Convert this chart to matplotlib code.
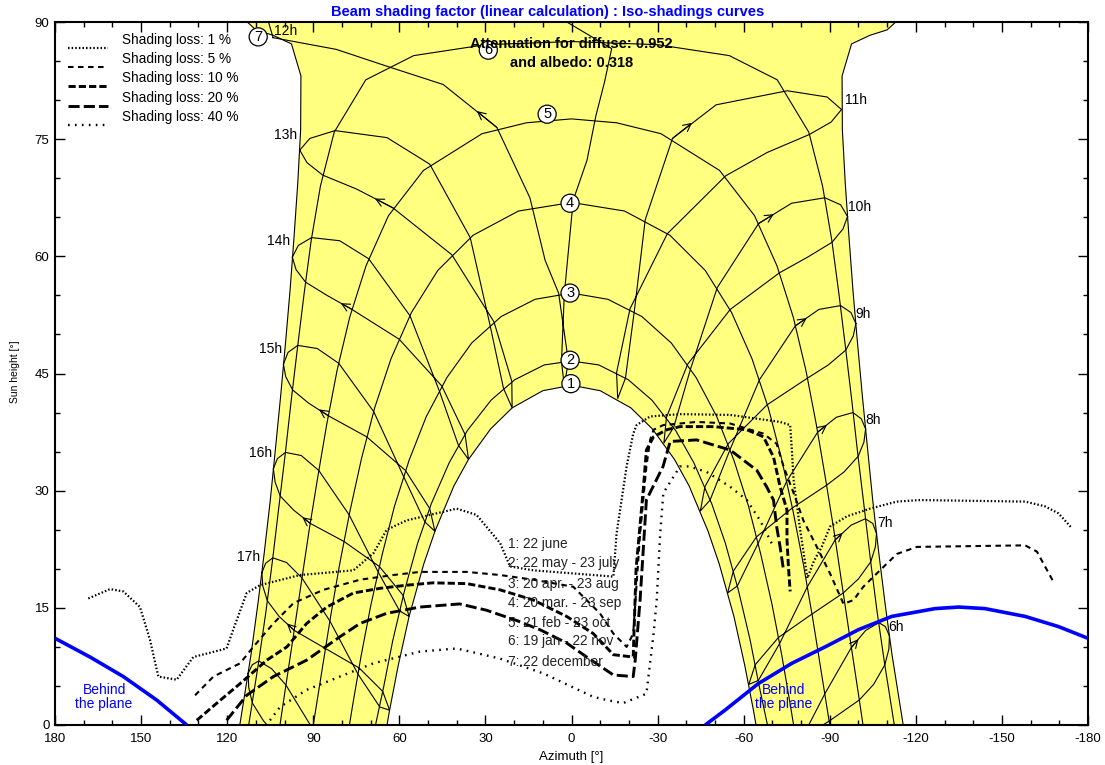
import matplotlib
matplotlib.use("Agg")
import matplotlib.pyplot as plt

plt.rcParams['font.family'] = ['Liberation Sans', 'DejaVu Sans']
plt.rcParams['lines.scale_dashes'] = False

# sun paths for the 7 dates (azimuth, sun height)
d1_az = [64.3, 63.4, 60.4, 56.6, 51.5, 47.6, 41.0, 35.9, 28.2, 20.7, 10.0, 0.0, -10.0, -20.7, -28.2, -35.9, -41.0, -47.6, -51.5, -56.6, -60.4, -63.4, -64.3]
d1_alt = [0.0, 1.9, 7.6, 13.9, 20.6, 24.8, 30.6, 34.0, 37.9, 40.6, 42.8, 43.5, 42.8, 40.6, 37.9, 34.0, 30.6, 24.8, 20.6, 13.9, 7.6, 1.9, 0.0]
d2_az = [68.3, 65.4, 62.3, 58.2, 53.6, 48.9, 42.6, 36.3, 28.0, 19.8, 9.5, 0.0, -9.5, -19.8, -28.0, -36.3, -42.6, -48.9, -53.6, -58.2, -62.3, -65.4, -68.3]
d2_alt = [0.0, 5.0, 10.8, 17.2, 23.3, 28.3, 33.6, 37.7, 41.6, 44.2, 46.1, 46.6, 46.1, 44.2, 41.6, 37.7, 33.6, 28.3, 23.3, 17.2, 10.8, 5.0, 0.0]
d3_az = [77.4, 76.2, 73.3, 69.9, 66.0, 61.7, 56.6, 50.6, 43.4, 34.8, 24.5, 12.7, 0.0, -12.7, -24.5, -34.8, -43.4, -50.6, -56.6, -61.7, -66.0, -69.9, -73.3, -76.2, -77.4]
d3_alt = [0.0, 2.7, 8.9, 15.4, 21.8, 28.0, 33.9, 39.5, 44.5, 48.9, 52.3, 54.5, 55.3, 54.5, 52.3, 48.9, 44.5, 39.5, 33.9, 28.0, 21.8, 15.4, 8.9, 2.7, 0.0]
d4_az = [90.0, 87.0, 84.0, 80.8, 77.2, 73.2, 68.6, 62.9, 55.8, 46.6, 34.3, 18.5, 0.0, -18.5, -34.3, -46.6, -55.8, -62.9, -68.6, -73.2, -77.2, -80.8, -84.0, -87.0, -90.0]
d4_alt = [0.0, 6.9, 13.8, 20.6, 27.4, 34.1, 40.6, 46.9, 52.8, 58.2, 62.7, 65.8, 66.9, 65.8, 62.7, 58.2, 52.8, 46.9, 40.6, 34.1, 27.4, 20.6, 13.8, 6.9, 0.0]
d5_az = [101.6, 99.9, 97.1, 94.3, 91.5, 88.5, 85.3, 81.7, 77.3, 71.6, 63.8, 51.6, 31.2, 15.7, 0.0, -15.7, -31.2, -51.6, -63.8, -71.6, -77.3, -81.7, -85.3, -88.5, -91.5, -94.3, -97.1, -99.9, -101.6]
d5_alt = [0.0, 4.2, 11.0, 17.9, 24.8, 31.6, 38.5, 45.4, 52.2, 58.8, 65.2, 71.0, 75.7, 77.1, 77.6, 77.1, 75.7, 71.0, 65.2, 58.8, 52.2, 45.4, 38.5, 31.6, 24.8, 17.9, 11.0, 4.2, 0.0]
d6_az = [112.5, 109.1, 106.5, 104.2, 102.0, 99.8, 97.7, 95.5, 93.2, 90.7, 87.5, 82.7, 71.7, 55.0, 30.0, 0.0, -30.0, -55.0, -71.7, -82.7, -87.5, -90.7, -93.2, -95.5, -97.7, -99.8, -102.0, -104.2, -106.5, -109.1, -112.5]
d6_alt = [0.0, 7.9, 14.5, 21.1, 27.9, 34.6, 41.5, 48.3, 55.2, 62.1, 69.0, 75.9, 82.6, 85.7, 87.1, 87.5, 87.1, 85.7, 82.6, 75.9, 69.0, 62.1, 55.2, 48.3, 41.5, 34.6, 27.9, 21.1, 14.5, 7.9, 0.0]
d7_az = [115.6, 111.7, 109.3, 107.1, 105.0, 103.2, 101.4, 99.7, 98.1, 96.7, 95.4, 94.4, 94.3, 97.6, 104.0, 110.0, 116.0, -116.0, -110.0, -104.0, -97.6, -94.3, -94.4, -95.4, -96.7, -98.1, -99.7, -101.4, -103.2, -105.0, -107.1, -109.3, -111.7, -115.6]
d7_alt = [0.0, 9.0, 15.5, 22.0, 28.7, 35.3, 42.0, 48.8, 55.6, 62.5, 69.4, 76.2, 83.1, 87.2, 88.3, 89.0, 91.0, 91.0, 89.0, 88.3, 87.2, 83.1, 76.2, 69.4, 62.5, 55.6, 48.8, 42.0, 35.3, 28.7, 22.0, 15.5, 9.0, 0.0]

# hour lines (analemma loops)
h06 = [(-110.8, 11.4), (-110.6, 9.7), (-109.2, 7.7), (-105.3, 5.2), (-100.3, 3.2), (-89.8, 0.5), (-78.3, -2.1), (-78.6, -2.9), (-88.3, 4.0), (-97.5, 9.9), (-102.5, 12.1), (-107.1, 13.1), (-109.4, 12.6), (-110.8, 11.4)]
h07 = [(-106.3, 24.5), (-105.9, 22.8), (-104.3, 20.9), (-100.0, 18.7), (-94.7, 16.9), (-83.8, 14.2), (-72.1, 11.2), (-64.0, 7.7), (-61.8, 5.2), (-65.1, 5.7), (-72.5, 10.4), (-82.2, 17.7), (-91.9, 23.7), (-97.5, 25.6), (-102.4, 26.4), (-105.0, 25.8), (-106.3, 24.5)]
h08 = [(-102.5, 37.9), (-101.9, 36.2), (-99.9, 34.4), (-95.0, 32.4), (-88.9, 30.7), (-77.0, 27.8), (-64.5, 24.1), (-56.4, 19.7), (-54.4, 16.9), (-57.8, 17.8), (-65.1, 23.3), (-75.0, 31.2), (-85.8, 37.5), (-92.3, 39.4), (-98.1, 40.0), (-101.0, 39.2), (-102.5, 37.9)]
h09 = [(-99.1, 51.4), (-98.2, 49.8), (-95.6, 48.0), (-89.5, 46.1), (-82.2, 44.4), (-68.2, 41.0), (-54.6, 36.0), (-46.5, 30.5), (-44.9, 27.4), (-48.3, 28.8), (-55.3, 35.3), (-65.5, 44.2), (-78.0, 51.1), (-86.2, 53.2), (-93.8, 53.7), (-97.4, 52.8), (-99.1, 51.4)]
h10 = [(-96.2, 65.1), (-94.6, 63.5), (-90.8, 61.8), (-82.3, 59.9), (-72.5, 57.9), (-55.3, 53.2), (-40.5, 46.2), (-33.1, 39.4), (-32.2, 36.1), (-35.6, 38.1), (-41.5, 45.6), (-50.8, 56.0), (-65.2, 64.2), (-76.7, 66.8), (-88.3, 67.5), (-93.8, 66.6), (-96.2, 65.1)]
h11 = [(-94.1, 78.8), (-90.5, 77.2), (-82.9, 75.6), (-68.2, 73.3), (-53.7, 70.3), (-33.4, 62.9), (-20.4, 53.3), (-15.7, 45.1), (-16.1, 41.8), (-18.8, 44.4), (-21.9, 53.0), (-25.7, 64.7), (-35.2, 75.1), (-50.4, 79.4), (-75.2, 81.2), (-89.1, 80.4), (-94.1, 78.8)]
h12 = [(104.0, 88.0), (108.0, 93.0), (20.0, 94.0), (-14.0, 86.6), (-11.5, 82.3), (-8.5, 78.0), (-5.4, 72.3), (-0.6, 67.2), (2.5, 55.2), (3.5, 46.5), (2.5, 43.4), (1.1, 46.6), (4.5, 55.3), (9.2, 59.5), (14.5, 67.5), (26.0, 76.5), (44.7, 82.0), (64.0, 84.3), (82.0, 86.5), (104.0, 88.0)]
h13 = [(94.7, 73.6), (91.2, 75.1), (82.4, 76.1), (64.3, 75.2), (49.4, 71.8), (35.3, 62.4), (28.4, 51.2), (23.7, 43.1), (20.7, 40.6), (20.8, 44.0), (27.0, 51.6), (41.7, 60.2), (62.2, 66.2), (74.8, 68.6), (86.7, 70.4), (92.2, 72.0), (94.7, 73.6)]
h14 = [(97.3, 59.9), (95.2, 61.4), (90.6, 62.4), (80.8, 62.0), (70.7, 59.7), (56.3, 52.4), (46.1, 42.8), (39.4, 35.8), (35.9, 34.0), (37.1, 37.2), (45.2, 43.4), (60.1, 49.4), (76.5, 53.2), (85.2, 55.0), (92.7, 56.7), (96.0, 58.3), (97.3, 59.9)]
h15 = [(100.4, 46.2), (98.8, 47.7), (95.4, 48.6), (88.6, 48.2), (81.1, 46.3), (68.9, 40.1), (58.5, 31.8), (51.1, 26.0), (47.6, 24.8), (49.4, 27.7), (57.9, 32.6), (71.4, 36.9), (84.8, 39.6), (91.6, 41.2), (97.2, 42.9), (99.6, 44.6), (100.4, 46.2)]
h16 = [(103.9, 32.8), (102.5, 34.1), (99.7, 34.9), (94.2, 34.5), (88.1, 32.6), (77.5, 26.9), (67.4, 19.6), (59.9, 14.6), (56.6, 13.9), (58.7, 16.6), (67.0, 20.3), (79.3, 23.5), (91.0, 25.8), (96.8, 27.5), (101.5, 29.3), (103.3, 31.1), (103.9, 32.8)]
h17 = [(107.9, 19.5), (106.6, 20.7), (104.1, 21.4), (99.3, 20.8), (93.9, 18.8), (84.2, 13.3), (74.4, 6.5), (66.8, 2.3), (63.4, 1.9), (65.8, 4.3), (74.0, 7.3), (85.8, 9.8), (96.6, 12.1), (101.9, 13.9), (106.0, 15.9), (107.6, 17.8), (107.9, 19.5)]
h18 = [(112.7, 6.6), (111.3, 7.7), (109.0, 8.2), (104.5, 7.2), (99.5, 5.1), (90.2, -0.5), (80.3, -7.0), (91.7, -4.0), (102.3, -1.5), (107.3, 0.5), (111.2, 2.8), (112.5, 4.8), (112.7, 6.6)]

arrow_tails = [(-97.5, 9.9), (-91.9, 23.7), (-85.8, 37.5), (-78.0, 51.1), (-65.2, 64.2), (-35.2, 75.1), (26.0, 76.5), (62.2, 66.2), (76.5, 53.2), (84.8, 39.6), (91.0, 25.8), (96.6, 12.1)]
arrow_tips = [(-100.0, 11.0), (-94.5, 24.6), (-89.0, 38.4), (-82.0, 52.1), (-70.5, 65.4), (-42.0, 77.1), (33.0, 78.6), (68.5, 67.4), (80.4, 54.0), (88.0, 40.4), (93.8, 26.6), (99.2, 13.0)]

hours_right = ['6h', '7h', '8h', '9h', '10h', '11h']
hours_right_pos = [(-110.3, 12.6), (-106.5, 25.9), (-102.3, 39.1), (-99.0, 52.6), (-96.4, 66.3), (-95.4, 80.0)]
hours_left = ['12h', '13h', '14h', '15h', '16h', '17h']
hours_left_pos = [(95.6, 88.8), (95.6, 75.5), (98.1, 62.0), (100.9, 48.2), (104.4, 34.8), (108.5, 21.5)]

date_nums = ['1', '2', '3', '4', '5', '6', '7']
date_num_pos = [(0.2, 43.7), (0.5, 46.7), (0.5, 55.3), (0.5, 66.8), (8.5, 78.2), (29.0, 86.4), (109.2, 88.1)]
date_names = ['1: 22 june', '2: 22 may - 23 july', '3: 20 apr. - 23 aug', '4: 20 mar. - 23 sep',
              '5: 21 feb - 23 oct', '6: 19 jan - 22 nov', '7: 22 december']
date_names_alt = [23.2, 20.7, 18.1, 15.6, 13.1, 10.7, 8.1]

# iso-shading curves
loss01 = [(168.4, 16.2), (160.8, 17.4), (156.2, 17.1), (150.4, 15.1), (146.9, 10.9), (144.0, 6.2), (137.6, 5.8), (131.8, 8.7), (120.2, 9.8), (117.9, 12.2), (113.2, 16.9), (108.6, 17.9), (94.6, 19.2), (76.0, 19.8), (69.0, 22.0), (64.4, 25.0), (57.4, 26.2), (49.3, 26.9), (40.0, 27.7), (33.1, 26.9), (24.9, 23.3), (21.4, 20.3), (13.3, 19.8), (-14.6, 19.0), (-15.7, 24.5), (-19.2, 33.1), (-21.5, 37.3), (-22.7, 38.4), (-27.4, 39.5), (-37.8, 39.8), (-55.3, 39.7), (-72.7, 38.8), (-76.2, 38.4), (-76.8, 35.2), (-77.4, 31.4), (-79.5, 25.5), (-82.2, 18.8), (-84.5, 21.0), (-87.2, 22.8), (-90.1, 25.4), (-95.9, 26.7), (-104.0, 27.7), (-113.4, 28.6), (-121.5, 28.8), (-158.1, 28.6), (-165.0, 28.0), (-169.7, 27.1), (-174.4, 25.2)]
loss05 = [(131.2, 3.8), (124.8, 6.2), (115.5, 7.9), (110.9, 10.0), (103.9, 13.0), (96.9, 15.6), (86.5, 17.3), (73.7, 18.6), (62.1, 19.2), (52.8, 19.6), (36.5, 19.6), (24.9, 19.2), (13.3, 18.6), (-0.6, 17.7), (-9.9, 14.3), (-14.6, 11.7), (-19.2, 10.0), (-21.5, 11.7), (-23.9, 24.5), (-26.1, 33.1), (-27.4, 36.5), (-28.6, 37.8), (-32.0, 38.4), (-43.6, 38.8), (-55.3, 38.6), (-66.9, 37.3), (-71.5, 36.0), (-73.9, 33.1), (-77.4, 29.7), (-80.8, 26.2), (-85.5, 22.8), (-90.1, 19.4), (-94.8, 15.5), (-98.3, 16.0), (-101.7, 17.7), (-107.5, 19.8), (-113.4, 21.9), (-120.4, 22.8), (-158.1, 23.0), (-162.2, 22.2), (-168.0, 18.3)]
loss10 = [(130.6, 0.6), (123.6, 2.8), (115.5, 5.3), (106.2, 8.3), (99.2, 10.0), (92.3, 13.0), (85.3, 15.1), (76.0, 16.9), (66.7, 17.5), (57.4, 17.9), (48.3, 18.2), (36.5, 18.1), (24.9, 17.3), (13.3, 16.0), (1.7, 13.9), (-7.6, 11.7), (-14.6, 9.0), (-21.5, 8.7), (-22.5, 20.0), (-25.0, 30.1), (-26.1, 35.2), (-28.6, 36.9), (-33.2, 37.8), (-37.8, 38.2), (-49.5, 38.2), (-61.1, 37.8), (-66.9, 36.9), (-70.4, 34.3), (-72.7, 30.5), (-75.1, 27.5), (-75.1, 23.7), (-75.6, 20.3), (-76.2, 17.1)]
loss20 = [(120.2, 0.6), (113.2, 3.8), (103.9, 6.2), (92.3, 8.3), (80.7, 11.3), (73.7, 13.0), (64.4, 14.3), (52.8, 15.1), (39.0, 15.5), (29.7, 14.7), (19.3, 13.4), (11.0, 12.2), (1.7, 10.5), (-5.3, 8.7), (-14.6, 6.4), (-21.5, 6.2), (-22.2, 8.3), (-23.9, 16.0), (-26.1, 28.8), (-31.9, 33.1), (-34.4, 36.3), (-43.6, 36.5), (-55.3, 35.2), (-64.6, 32.6), (-68.0, 30.5), (-70.4, 28.8), (-71.5, 25.4), (-72.7, 22.8), (-73.9, 19.8)]
loss40 = [(105.1, 0.6), (101.6, 2.3), (92.3, 4.5), (80.7, 6.2), (69.0, 7.9), (52.8, 9.4), (40.0, 9.8), (24.9, 8.5), (9.8, 6.6), (-7.6, 3.6), (-12.2, 3.2), (-18.0, 2.8), (-26.1, 4.0), (-28.6, 11.7), (-29.7, 16.0), (-30.9, 24.5), (-32.0, 29.7), (-37.8, 33.1), (-41.1, 33.1), (-47.1, 32.4), (-55.3, 30.5), (-61.1, 28.8), (-65.7, 26.2), (-69.2, 23.7), (-70.3, 22.8)]
loss_labels = ['Shading loss: 1 %', 'Shading loss: 5 %', 'Shading loss: 10 %', 'Shading loss: 20 %', 'Shading loss: 40 %']

# plane limit ("behind the plane")
blue_left = [(180.0, 11.1), (167.8, 8.7), (156.2, 6.2), (144.6, 3.2), (134.1, 0.0)]
blue_right = [(-46.6, 0.0), (-53.5, 1.9), (-65.1, 5.3), (-76.8, 7.9), (-88.4, 10.0), (-100.0, 12.2), (-111.6, 13.9), (-126.7, 14.9), (-135.0, 15.1), (-144.1, 14.9), (-158.1, 13.9), (-169.7, 12.6), (-180.0, 11.1)]

fig = plt.figure(figsize=(11.05, 7.65), dpi=100)
ax = fig.add_axes([0.0498, 0.0523, 0.9348, 0.9189])
ax.set_xlim(180, -180)
ax.set_ylim(0, 90)

# yellow sun area between june and december paths
ax.fill(d7_az + d1_az[::-1], d7_alt + d1_alt[::-1], color='#ffff80', lw=0, zorder=1)

for az, alt in [(d1_az, d1_alt), (d2_az, d2_alt), (d3_az, d3_alt), (d4_az, d4_alt),
                (d5_az, d5_alt), (d6_az, d6_alt), (d7_az, d7_alt)]:
    ax.plot(az, alt, color='black', lw=0.8, zorder=2)

for loop in [h06, h07, h08, h09, h10, h11, h12, h13, h14, h15, h16, h17, h18]:
    az, alt = zip(*loop)
    ax.plot(az, alt, color='black', lw=0.8, zorder=2)

for tail, tip in zip(arrow_tails, arrow_tips):
    ax.annotate('', xy=tip, xytext=tail,
                arrowprops=dict(arrowstyle='->', color='black', lw=0.8,
                                mutation_scale=14, shrinkA=0, shrinkB=0), zorder=3)

# shading curves
styles = [dict(lw=1.6, dashes=(1.1, 1.5)),
          dict(lw=1.5, dashes=(4.0, 3.2)),
          dict(lw=2.1, dashes=(5.2, 2.2)),
          dict(lw=2.1, dashes=(8.0, 3.0)),
          dict(lw=1.7, dashes=(1.2, 3.8))]
for curve, st in zip([loss01, loss05, loss10, loss20, loss40], styles):
    az, alt = zip(*curve)
    ax.plot(az, alt, color='black', zorder=4, **st)

# legend, drawn by hand: samples sit a little below their texts as in PVsyst
for i, (st, lab) in enumerate(zip(styles, loss_labels)):
    y = 0.9744 - i * 0.0273
    ax.plot([0.0126, 0.0513], [y - 0.0114, y - 0.0114], transform=ax.transAxes,
            color='black', zorder=6, **st)
    ax.text(0.0649, y, lab, transform=ax.transAxes, fontsize=9.8, ha='left', va='center', zorder=6)

for curve in [blue_left, blue_right]:
    az, alt = zip(*curve)
    ax.plot(az, alt, color='#0000ff', lw=2.6, zorder=5, solid_capstyle='butt')

ax.text(162.9, 3.6, 'Behind\nthe plane', color='#0000ff', fontsize=10, ha='center',
        va='center', linespacing=0.95, zorder=6)
ax.text(-73.9, 3.6, 'Behind\nthe plane', color='#0000ff', fontsize=10, ha='center',
        va='center', linespacing=0.95, zorder=6)

# hour labels
for lab, (x, y) in zip(hours_right, hours_right_pos):
    ax.text(x, y, lab, fontsize=10, ha='left', va='center', zorder=6)
for lab, (x, y) in zip(hours_left, hours_left_pos):
    ax.text(x, y, lab, fontsize=10, ha='right', va='center', zorder=6, clip_on=True)

# date markers
for lab, (x, y) in zip(date_nums, date_num_pos):
    ax.text(x, y, lab, fontsize=10.5, ha='center', va='center', zorder=7,
            bbox=dict(boxstyle='circle,pad=0.14', fc='white', ec='black', lw=0.9))

for lab, y in zip(date_names, date_names_alt):
    ax.text(22.1, y, lab, fontsize=9.8, ha='left', va='center', color='#222222', zorder=6)

ax.text(0.0, 87.2, 'Attenuation for diffuse: 0.952', fontsize=10.5, fontweight='bold',
        ha='center', va='center', zorder=8)
ax.text(0.0, 84.7, 'and albedo: 0.318', fontsize=10.5, fontweight='bold',
        ha='center', va='center', zorder=8)

# axes / ticks
xt = list(range(180, -181, -30))
ax.set_xticks(xt)
ax.set_xticklabels([str(v) for v in xt])
ax.set_xticks(list(range(-180, 181, 10)), minor=True)
ax.set_yticks(list(range(0, 91, 15)))
ax.set_yticks(list(range(0, 91, 5)), minor=True)
ax.tick_params(which='both', direction='in', top=True, right=True, labelsize=9.5, width=1)
ax.tick_params(which='major', length=7)
ax.tick_params(which='minor', length=3.5)
ax.tick_params(axis='x', pad=5.5)
ax.tick_params(axis='y', pad=4)
for sp in ax.spines.values():
    sp.set_linewidth(1.5)

fig.text(0.517, 0.011, 'Azimuth [°]', fontsize=9.5, ha='center', va='center')
fig.text(0.0136, 0.514, 'Sun height [°]', fontsize=7.5, ha='center', va='center', rotation=90)
fig.text(0.496, 0.984, 'Beam shading factor (linear calculation) : Iso-shadings curves',
         fontsize=10.5, fontweight='bold', color='#0000ff', ha='center', va='center')

fig.savefig('out.png', dpi=100)
